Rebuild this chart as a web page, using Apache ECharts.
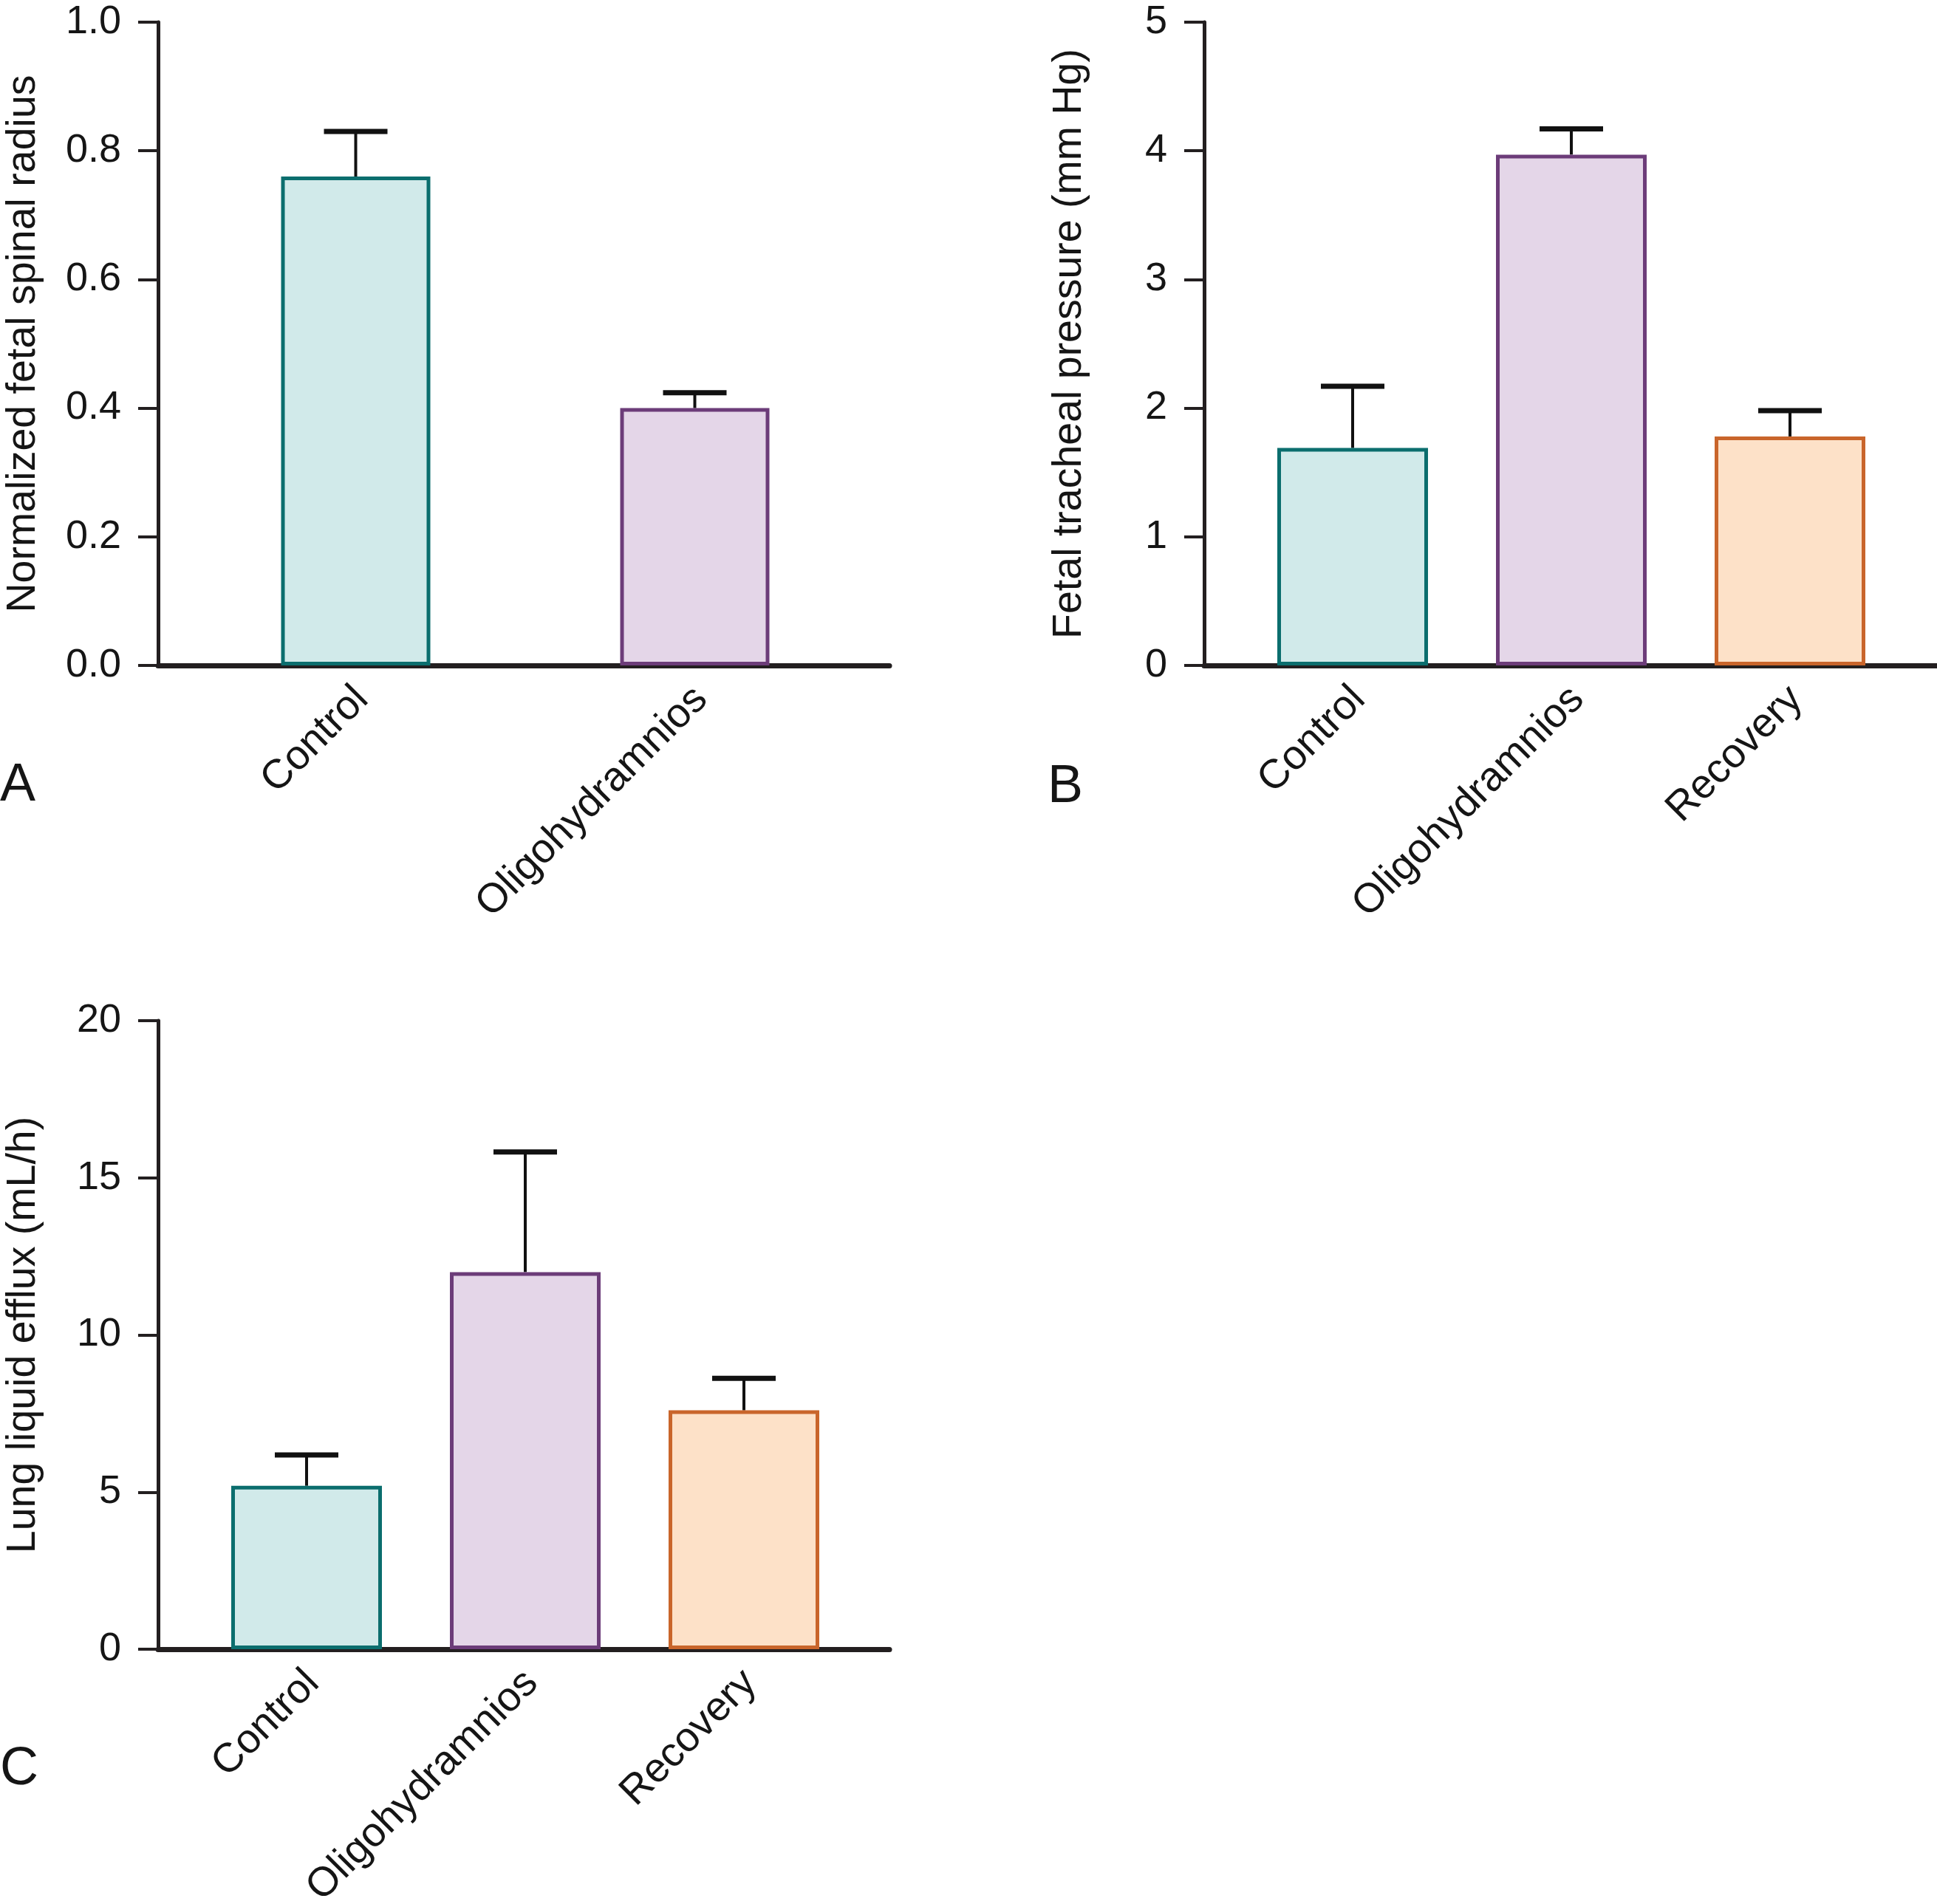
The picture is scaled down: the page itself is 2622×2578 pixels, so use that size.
<!DOCTYPE html>
<html>
<head>
<meta charset="utf-8">
<script src="https://cdn.jsdelivr.net/npm/echarts@6/dist/echarts.min.js"></script>
<style>
html,body{margin:0;padding:0;background:#fff;}
#chart{width:2622px;height:2578px;}
</style>
</head>
<body>
<div id="chart"></div>
<script>
// ---- data ----
const catsA = ['Control', 'Oligohydramnios'];
const valsA = [0.76, 0.40];
const errTopA = [0.83, 0.424];
const ticksA = [0, 0.2, 0.4, 0.6, 0.8, 1.0];

const catsB = ['Control', 'Oligohydramnios', 'Recovery'];
const valsB = [1.69, 3.97, 1.78];
const errTopB = [2.17, 4.17, 1.98];
const ticksB = [0, 1, 2, 3, 4, 5];

const catsC = ['Control', 'Oligohydramnios', 'Recovery'];
const valsC = [5.2, 12.0, 7.6];
const errTopC = [6.18, 15.82, 8.62];
const ticksC = [0, 5, 10, 15, 20];

const titleA = 'Normalized fetal spinal radius';
const titleB = 'Fetal tracheal pressure (mm Hg)';
const titleC = 'Lung liquid efflux (mL/h)';
const panelLabels = ['A', 'B', 'C'];

// ---- styles ----
const FONT = "'Liberation Sans', Arial, Helvetica, sans-serif";
const TXT = '#151515';
const AX = '#231f20';
const fills = {Control: '#d1eaea', Oligohydramnios: '#e4d6e8', Recovery: '#fde1c8'};
const borders = {Control: '#0b6e6e', Oligohydramnios: '#6c3c79', Recovery: '#c9652b'};

function outerY(gi, ticks, name, dec) {
  return {
    gridIndex: gi, type: 'value',
    min: ticks[0], max: ticks[ticks.length - 1], interval: ticks[1] - ticks[0],
    axisLine: {show: true, lineStyle: {color: AX, width: 5}},
    axisTick: {show: true, length: 27, lineStyle: {color: AX, width: 4}},
    axisLabel: {show: true, margin: 50, fontSize: 54, fontFamily: FONT, color: TXT,
      formatter: v => Number(v).toFixed(dec)},
    splitLine: {show: false},
    name: name, nameLocation: 'middle', nameRotate: 90, nameGap: 154,
    nameTextStyle: {fontSize: 55.5, fontFamily: FONT, color: TXT}
  };
}
function innerY(gi, ticks) {
  return {gridIndex: gi, type: 'value', min: ticks[0], max: ticks[ticks.length - 1], show: false};
}
function outerX(gi) {
  return {gridIndex: gi, type: 'value', min: 0, max: 1,
    axisLine: {show: true, onZero: false, lineStyle: {color: AX, width: 7}},
    axisTick: {show: false}, axisLabel: {show: false}, splitLine: {show: false}};
}
function innerX(gi, cats) {
  return {gridIndex: gi, type: 'category', data: cats,
    axisLine: {show: false}, axisTick: {show: false}, splitLine: {show: false},
    axisLabel: {show: true, rotate: 45, interval: 0, margin: 46, padding: [0, -12, 0, 0],
      fontSize: 55.5, fontFamily: FONT, color: TXT}};
}
function barSeries(ai, cats, vals, bw) {
  return {
    type: 'bar', xAxisIndex: ai, yAxisIndex: ai, barWidth: bw, z: 3,
    data: vals.map((v, i) => ({value: v, itemStyle: {color: fills[cats[i]], borderColor: borders[cats[i]], borderWidth: 5}}))
  };
}
function errSeries(ai, vals, tops) {
  return {
    type: 'custom', xAxisIndex: ai, yAxisIndex: ai, z: 2,
    data: vals.map((v, i) => [i, v, tops[i]]),
    renderItem: function (params, api) {
      const base = api.coord([api.value(0), api.value(1)]);
      const top = api.coord([api.value(0), api.value(2)]);
      const half = 43;
      return {type: 'group', children: [
        {type: 'line', shape: {x1: base[0], y1: base[1], x2: top[0], y2: top[1]}, style: {stroke: '#111', lineWidth: 4}},
        {type: 'line', shape: {x1: top[0] - half, y1: top[1], x2: top[0] + half, y2: top[1]}, style: {stroke: '#111', lineWidth: 7}}
      ]};
    }
  };
}

function grid(l, t, w, h) {
  return {left: l, top: t, width: w, height: h, containLabel: false, outerBoundsMode: 'none'};
}

const option = {
  animation: false,
  backgroundColor: '#fff',
  title: [
    {text: panelLabels[0], left: 0, top: 1028, padding: 0, textStyle: {fontSize: 72, fontWeight: 'normal', fontFamily: FONT, color: TXT}},
    {text: panelLabels[1], left: 1418, top: 1030, padding: 0, textStyle: {fontSize: 72, fontWeight: 'normal', fontFamily: FONT, color: TXT}},
    {text: panelLabels[2], left: 0, top: 2360, padding: 0, textStyle: {fontSize: 72, fontWeight: 'normal', fontFamily: FONT, color: TXT}}
  ],
  grid: [
    grid(214, 30, 990, 871),
    grid(252, 30, 918, 871),
    grid(1630, 30, 992, 871),
    grid(1683, 30, 888, 871),
    grid(214, 1382, 990, 851),
    grid(267, 1382, 888, 851)
  ],
  xAxis: [outerX(0), innerX(1, catsA), outerX(2), innerX(3, catsB), outerX(4), innerX(5, catsC)],
  yAxis: [outerY(0, ticksA, titleA, 1), innerY(1, ticksA), outerY(2, ticksB, titleB, 0), innerY(3, ticksB),
          outerY(4, ticksC, titleC, 0), innerY(5, ticksC)],
  series: [
    barSeries(1, catsA, valsA, 202), errSeries(1, valsA, errTopA),
    barSeries(3, catsB, valsB, 204), errSeries(3, valsB, errTopB),
    barSeries(5, catsC, valsC, 204), errSeries(5, valsC, errTopC)
  ]
};
const chart = echarts.init(document.getElementById('chart'));
chart.setOption(option);
</script>
</body>
</html>
